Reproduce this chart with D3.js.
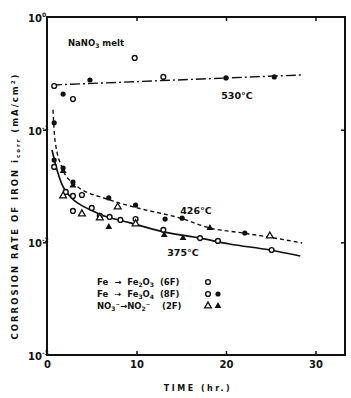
<!DOCTYPE html>
<html>
<head>
<meta charset="utf-8">
<script src="https://cdn.jsdelivr.net/npm/d3@7"></script>
<style>
  body { margin: 0; background: #fff; }
  text { font-family: "DejaVu Sans", sans-serif; font-weight: bold; fill: #111; }
</style>
</head>
<body>
<div id="chart"></div>
<script>
// axis ticks
var xTicks = [0, 10, 20, 30];
var yTicks = [1, 0.1, 0.01, 0.001];
var yTickExp = ["0", "-1", "-2", "-3"];

// fitted curves (time in hr, rate in mA/cm2)
var t530 = [0.56, 28.5];
var v530 = [0.249, 0.306];
var t426 = [0.67, 0.89, 1.79, 2.9, 7.0, 10.1, 14.9, 18.2, 21.9, 24.9, 28.5];
var v426 = [0.150, 0.081, 0.0439, 0.0336, 0.0238, 0.0202, 0.0164, 0.0134, 0.0121, 0.0111, 0.00987];
var t375 = [0.56, 1.12, 2.0, 5.6, 9.3, 13.0, 17.1, 20.4, 24.9, 28.3];
var v375 = [0.066, 0.0439, 0.0292, 0.0182, 0.0149, 0.0124, 0.0109, 0.00967, 0.00855, 0.00756];

// measured points by marker type
var openCircT = [0.8, 2.9, 9.8, 13.0, 0.8, 2.1, 2.9, 3.9, 2.9, 5.0, 5.9, 7.0, 8.2, 9.9, 13.0, 17.1, 19.1, 25.1];
var openCircV = [0.244, 0.187, 0.433, 0.294, 0.0467, 0.0280, 0.0258, 0.0263, 0.0190, 0.0202, 0.0172, 0.0168, 0.0158, 0.0161, 0.0129, 0.0109, 0.0103, 0.00855];
var fillCircT = [1.8, 4.8, 20.0, 25.4, 0.8, 0.8, 1.8, 2.9, 6.9, 9.9, 13.2, 15.1, 22.1];
var fillCircV = [0.207, 0.276, 0.288, 0.294, 0.115, 0.0538, 0.0457, 0.0343, 0.0248, 0.0214, 0.0161, 0.0164, 0.0121];
var openTriT = [1.8, 3.9, 5.9, 9.9, 7.9, 24.9];
var openTriV = [0.0258, 0.0179, 0.0165, 0.0146, 0.0206, 0.0114];
var fillTriT = [1.8, 2.9, 6.9, 13.1, 15.2, 18.2];
var fillTriV = [0.043, 0.032, 0.0137, 0.0116, 0.0109, 0.0134];

var svgWidth = 351;
var svgHeight = 398;

var svg = d3.select("#chart")
  .append("svg")
  .attr("width", svgWidth)
  .attr("height", svgHeight);

var x = d3.scaleLinear().domain([0, 33.3]).range([47, 345]);
var y = d3.scaleLog().domain([0.001, 1]).range([355, 17]);

// frame
svg.append("rect")
  .attr("x", x(0)).attr("y", y(1))
  .attr("width", x(33.3) - x(0)).attr("height", y(0.001) - y(1))
  .attr("fill", "none").attr("stroke", "#111").attr("stroke-width", 2);

// bottom axis, ticks pointing inward
var bottomAxis = svg.append("g")
  .attr("transform", `translate(0, ${y(0.001)})`)
  .call(d3.axisBottom(x).tickValues(xTicks).tickSize(-4).tickPadding(6).tickFormat(d3.format("d")));
bottomAxis.select(".domain").remove();
bottomAxis.selectAll("line").attr("stroke", "#111").attr("stroke-width", 1.5);
bottomAxis.selectAll("text").attr("font-size", 10).style("font-family", "DejaVu Sans").style("font-weight", "bold");
bottomAxis.selectAll(".tick").filter(d => d === 0).select("line").remove();

// top axis ticks
var topAxis = svg.append("g")
  .attr("transform", `translate(0, ${y(1)})`)
  .call(d3.axisTop(x).tickValues(xTicks.slice(1)).tickSize(-4).tickFormat(""));
topAxis.select(".domain").remove();
topAxis.selectAll("line").attr("stroke", "#111").attr("stroke-width", 1.5);

// left axis: outward ticks, labels drawn as 10 with superscript
var leftAxis = svg.append("g")
  .attr("transform", `translate(${x(0)}, 0)`)
  .call(d3.axisLeft(y).tickValues(yTicks.slice(1, 3)).tickSize(4).tickFormat(""));
leftAxis.select(".domain").remove();
leftAxis.selectAll("line").attr("stroke", "#111").attr("stroke-width", 1.5);

var rightAxis = svg.append("g")
  .attr("transform", `translate(${x(33.3)}, 0)`)
  .call(d3.axisRight(y).tickValues(yTicks.slice(1, 3)).tickSize(-4).tickFormat(""));
rightAxis.select(".domain").remove();
rightAxis.selectAll("line").attr("stroke", "#111").attr("stroke-width", 1.5);

yTicks.forEach(function(v, i) {
  var lab = svg.append("text")
    .attr("x", 28)
    .attr("y", y(v) + 5)
    .attr("font-size", 10);
  lab.append("tspan").text("10");
  lab.append("tspan").attr("dy", -5).attr("font-size", 6).text(yTickExp[i]);
});

// curves
function toPts(ts, vs) {
  return ts.map((t, i) => [t, vs[i]]);
}
var line = d3.line()
  .x(d => x(d[0]))
  .y(d => y(d[1]))
  .curve(d3.curveMonotoneX);

svg.append("path")
  .datum(toPts(t530, v530))
  .attr("d", line)
  .attr("fill", "none").attr("stroke", "#111").attr("stroke-width", 1.4)
  .attr("stroke-dasharray", "10,3,2,3");

svg.append("path")
  .datum(toPts(t426, v426))
  .attr("d", line)
  .attr("fill", "none").attr("stroke", "#111").attr("stroke-width", 1.4)
  .attr("stroke-dasharray", "4,3");

svg.append("path")
  .datum(toPts(t375, v375))
  .attr("d", line)
  .attr("fill", "none").attr("stroke", "#111").attr("stroke-width", 1.7);

// markers
var tri = d3.symbol().type(d3.symbolTriangle).size(20);

svg.selectAll(null).data(toPts(openCircT, openCircV)).enter()
  .append("circle")
  .attr("cx", d => x(d[0])).attr("cy", d => y(d[1])).attr("r", 2.4)
  .attr("fill", "#fff").attr("stroke", "#111").attr("stroke-width", 1.4);

svg.selectAll(null).data(toPts(fillCircT, fillCircV)).enter()
  .append("circle")
  .attr("cx", d => x(d[0])).attr("cy", d => y(d[1])).attr("r", 2.6)
  .attr("fill", "#111");

svg.selectAll(null).data(toPts(openTriT, openTriV)).enter()
  .append("path")
  .attr("transform", d => `translate(${x(d[0])}, ${y(d[1])})`)
  .attr("d", tri)
  .attr("fill", "#fff").attr("stroke", "#111").attr("stroke-width", 1.3);

svg.selectAll(null).data(toPts(fillTriT, fillTriV)).enter()
  .append("path")
  .attr("transform", d => `translate(${x(d[0])}, ${y(d[1])})`)
  .attr("d", tri)
  .attr("fill", "#111");

// annotations
var melt = svg.append("text").attr("x", 68).attr("y", 46).attr("font-size", 8.5);
melt.append("tspan").text("NaNO");
melt.append("tspan").attr("dy", 2).attr("font-size", 6).text("3");
melt.append("tspan").attr("dy", -2).text(" melt");

svg.append("text").attr("x", 237).attr("y", 99).attr("font-size", 9.5)
  .attr("text-anchor", "middle").text("530°C");
svg.append("text").attr("x", 196).attr("y", 214).attr("font-size", 9.5)
  .attr("text-anchor", "middle").text("426°C");
svg.append("text").attr("x", 183).attr("y", 256).attr("font-size", 9.5)
  .attr("text-anchor", "middle").text("375°C");

// legend
var legendRows = [
  [["Fe  \u2192  Fe", ""], ["2", "sub"], ["O", ""], ["3", "sub"], ["  (6F)", ""]],
  [["Fe  \u21E2  Fe", ""], ["3", "sub"], ["O", ""], ["4", "sub"], ["  (8F)", ""]],
  [["NO", ""], ["3", "sub"], ["\u207B\u2192NO", ""], ["2", "sub"], ["\u207B    (2F)", ""]]
];
legendRows.forEach(function(row, i) {
  var t = svg.append("text")
    .attr("x", 97).attr("y", 285 + i * 12)
    .attr("font-size", 8.5)
    .attr("xml:space", "preserve")
    .style("white-space", "pre");
  row.forEach(function(part) {
    var sp = t.append("tspan").text(part[0]);
    if (part[1] === "sub") sp.attr("font-size", 6).attr("dy", 2);
    else sp.attr("dy", t.node().childNodes.length > 1 ? -2 : 0);
  });
});
// legend markers
var ly = [282, 294, 306];
svg.append("circle").attr("cx", 208).attr("cy", ly[0]).attr("r", 2.4)
  .attr("fill", "#fff").attr("stroke", "#111").attr("stroke-width", 1.4);
svg.append("circle").attr("cx", 208).attr("cy", ly[1]).attr("r", 2.4)
  .attr("fill", "#fff").attr("stroke", "#111").attr("stroke-width", 1.4);
svg.append("circle").attr("cx", 218).attr("cy", ly[1]).attr("r", 2.6).attr("fill", "#111");
svg.append("path").attr("transform", `translate(208, ${ly[2]})`).attr("d", tri)
  .attr("fill", "#fff").attr("stroke", "#111").attr("stroke-width", 1.3);
svg.append("path").attr("transform", `translate(218, ${ly[2]})`).attr("d", tri)
  .attr("fill", "#111");

// axis titles
svg.append("text")
  .attr("x", 198).attr("y", 391)
  .attr("text-anchor", "middle").attr("font-size", 8)
  .style("letter-spacing", "2.5px")
  .text("TIME (hr.)");

var yTitle = svg.append("text")
  .attr("transform", "translate(18, 206) rotate(-90)")
  .attr("text-anchor", "middle").attr("font-size", 8.5)
  .style("letter-spacing", "2px");
yTitle.append("tspan").text("CORROSION RATE OF IRON   i");
yTitle.append("tspan").attr("font-size", 5.5).attr("dy", 2).text("corr");
yTitle.append("tspan").attr("dy", -2).text(" (mA/cm");
yTitle.append("tspan").attr("font-size", 5.5).attr("dy", -3).text("2");
yTitle.append("tspan").attr("dy", 3).text(")");
</script>
</body>
</html>
